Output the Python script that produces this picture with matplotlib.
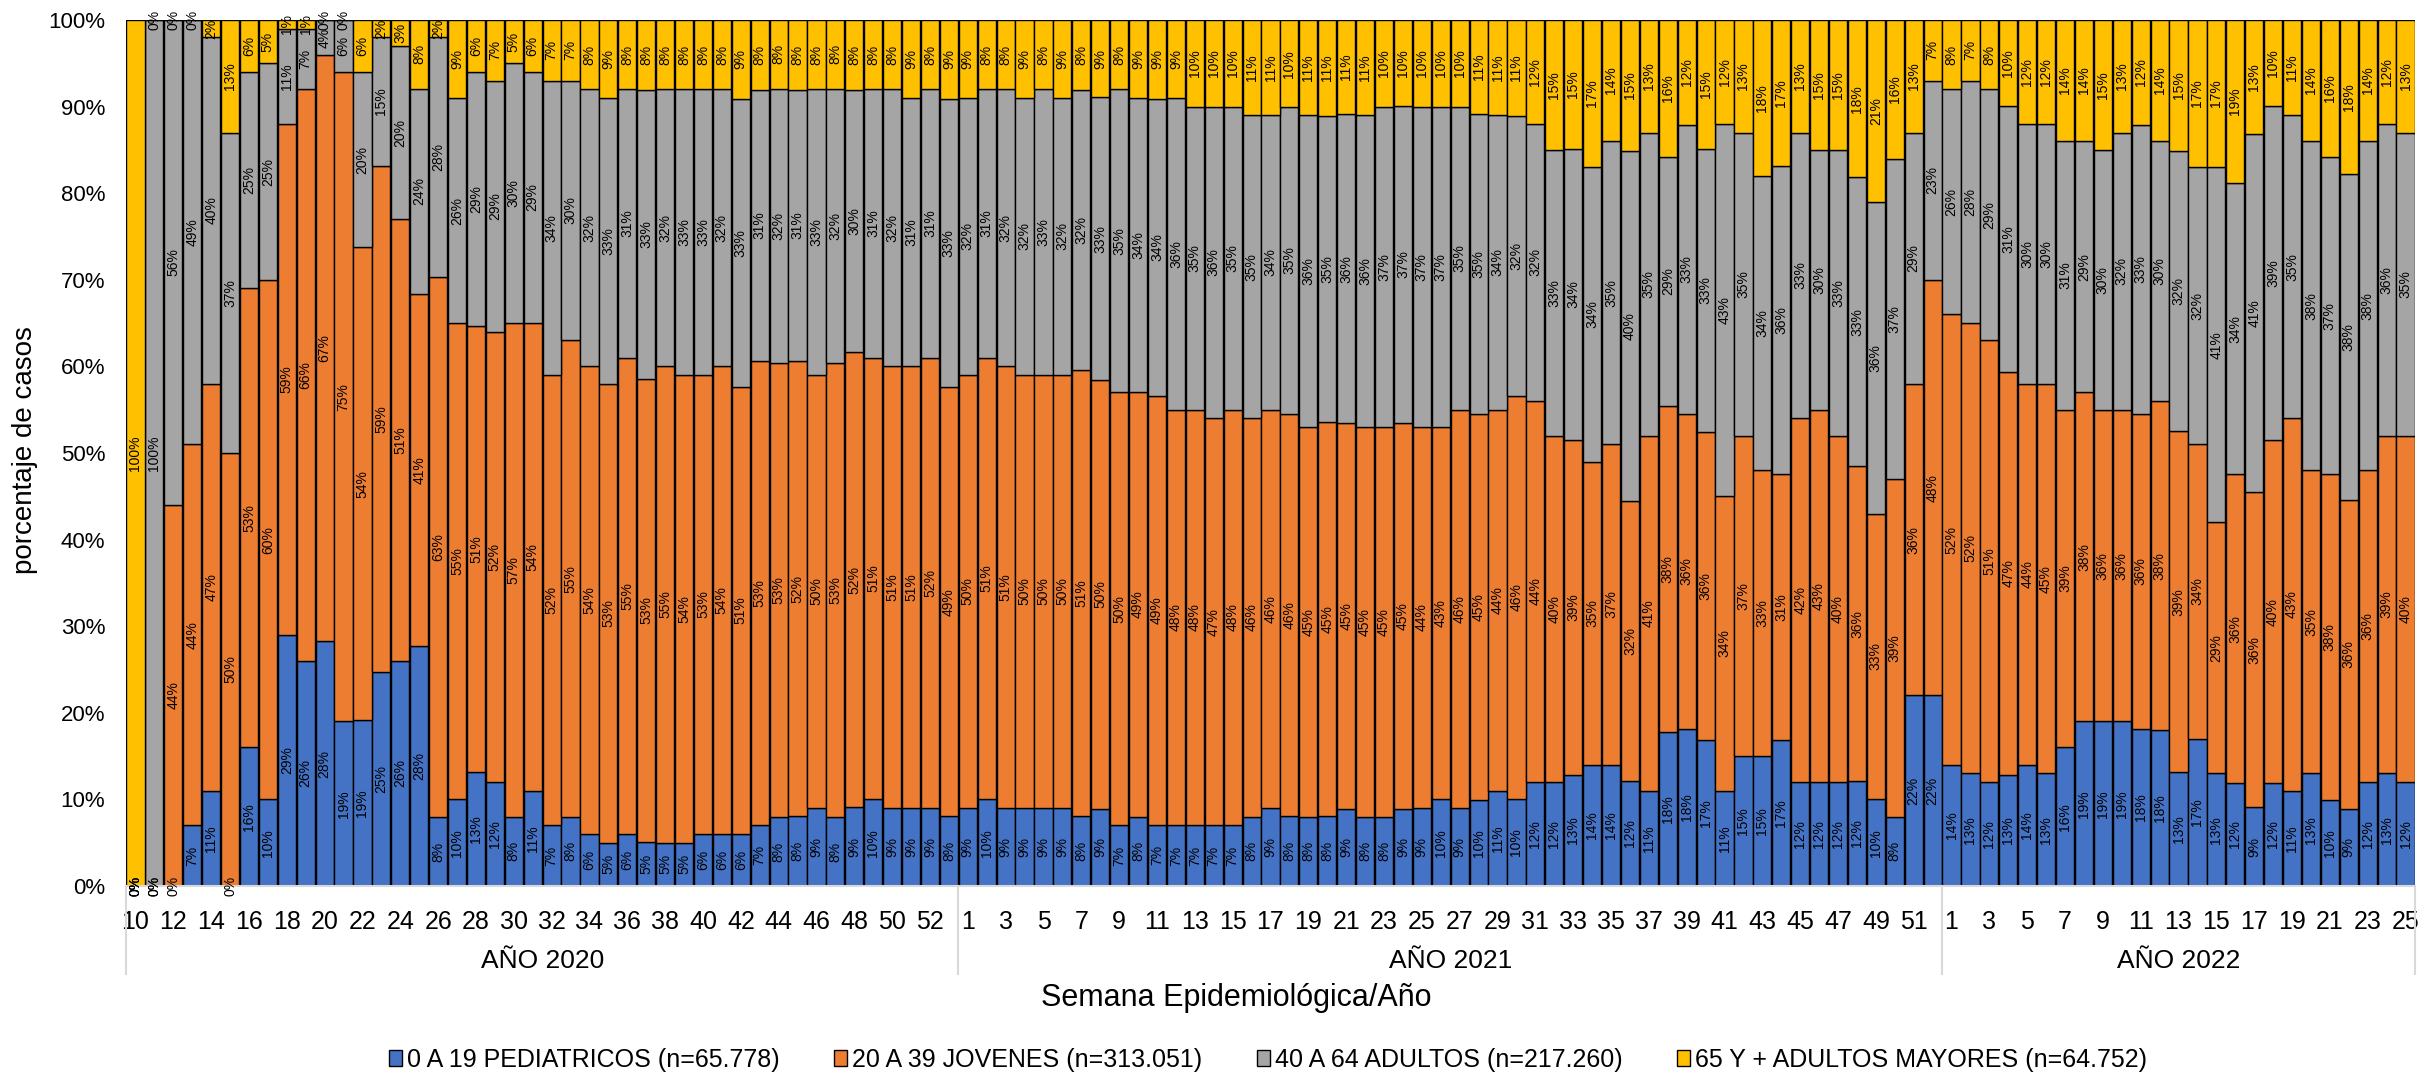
import matplotlib
matplotlib.use('Agg')
import matplotlib.pyplot as plt
from matplotlib.patches import Patch
import numpy as np

plt.rcParams['font.family'] = ['Liberation Sans', 'DejaVu Sans']

# ---------------- data ----------------
years = ['AÑO 2020', 'AÑO 2021', 'AÑO 2022']
weeks_2020 = list(range(10, 54))
weeks_2021 = list(range(1, 53))
weeks_2022 = list(range(1, 26))

series_names = ['0 A 19 PEDIATRICOS (n=65.778)',
                '20 A 39 JOVENES (n=313.051)',
                '40 A 64 ADULTOS (n=217.260)',
                '65 Y + ADULTOS MAYORES (n=64.752)']

ped = [0, 0, 0, 7, 11, 0, 16, 10, 29, 26, 28, 19, 19, 25, 26, 28, 8, 10, 13, 12,
       8, 11, 7, 8, 6, 5, 6, 5, 5, 5, 6, 6, 6, 7, 8, 8, 9, 8, 9, 10, 9, 9, 9, 8,
       9, 10, 9, 9, 9, 9, 8, 9, 7, 8, 7, 7, 7, 7, 7, 8, 9, 8, 8, 8, 9, 8, 8, 9, 9, 10,
       9, 10, 11, 10, 12, 12, 13, 14, 14, 12, 11, 18, 18, 17, 11, 15, 15, 17, 12, 12,
       12, 12, 10, 8, 22, 22,
       14, 13, 12, 13, 14, 13, 16, 19, 19, 19, 18, 18, 13, 17, 13, 12, 9, 12, 11, 13,
       10, 9, 12, 13, 12]

jov = [0, 0, 44, 44, 47, 50, 53, 60, 59, 66, 67, 75, 54, 59, 51, 41, 63, 55, 51, 52,
       57, 54, 52, 55, 54, 53, 55, 53, 55, 54, 53, 54, 51, 53, 53, 52, 50, 53, 52, 51,
       51, 51, 52, 49,
       50, 51, 51, 50, 50, 50, 51, 50, 50, 49, 49, 48, 48, 47, 48, 46, 46, 46, 45, 45,
       45, 45, 45, 45, 44, 43, 46, 45, 44, 46, 44, 40, 39, 35, 37, 32, 41, 38, 36, 36,
       34, 37, 33, 31, 42, 43, 40, 36, 33, 39, 36, 48,
       52, 52, 51, 47, 44, 45, 39, 38, 36, 36, 36, 38, 39, 34, 29, 36, 36, 40, 43, 35,
       38, 36, 36, 39, 40]

adu = [0, 100, 56, 49, 40, 37, 25, 25, 11, 7, 4, 6, 20, 15, 20, 24, 28, 26, 29, 29,
       30, 29, 34, 30, 32, 33, 31, 33, 32, 33, 33, 32, 33, 31, 32, 31, 33, 32, 30, 31,
       32, 31, 31, 33,
       32, 31, 32, 32, 33, 32, 32, 33, 35, 34, 34, 36, 35, 36, 35, 35, 34, 35, 36, 35,
       36, 36, 37, 37, 37, 37, 35, 35, 34, 32, 32, 33, 34, 34, 35, 40, 35, 29, 33, 33,
       43, 35, 34, 36, 33, 30, 33, 33, 36, 37, 29, 23,
       26, 28, 29, 31, 30, 30, 31, 29, 30, 32, 33, 30, 32, 32, 41, 34, 41, 39, 35, 38,
       37, 38, 38, 36, 35]

may = [100, 0, 0, 0, 2, 13, 6, 5, 1, 1, 0, 0, 6, 2, 3, 8, 2, 9, 6, 7,
       5, 6, 7, 7, 8, 9, 8, 8, 8, 8, 8, 8, 9, 8, 8, 8, 8, 8, 8, 8, 8, 9, 8, 9,
       9, 8, 8, 9, 8, 9, 8, 9, 8, 9, 9, 9, 10, 10, 10, 11, 11, 10, 11, 11,
       11, 11, 10, 10, 10, 10, 10, 11, 11, 11, 12, 15, 15, 17, 14, 15, 13, 16, 12, 15,
       12, 13, 18, 17, 13, 15, 15, 18, 21, 16, 13, 7,
       8, 7, 8, 10, 12, 12, 14, 14, 15, 13, 12, 14, 15, 17, 17, 19, 13, 10, 11, 14,
       16, 18, 14, 12, 13]

colors = ['#4472C4', '#ED7D31', '#A5A5A5', '#FFC000']

# ---------------- figure ----------------
W, H = 2418, 1072
fig = plt.figure(figsize=(W / 100, H / 100), dpi=100)
L, R, T, B = 126, 2415, 20, 886
ax = fig.add_axes([L / W, 1 - B / H, (R - L) / W, (B - T) / H])

weeks = weeks_2020 + weeks_2021 + weeks_2022
data = np.array([ped, jov, adu, may], dtype=float)
shares = data / data.sum(axis=0) * 100
x = np.arange(len(weeks))
bottom = np.zeros(len(weeks))
for k in range(4):
    ax.bar(x, shares[k], bottom=bottom, width=0.96, color=colors[k],
           edgecolor='black', linewidth=1.0, zorder=2)
    for i in range(len(weeks)):
        ax.text(x[i], bottom[i] + shares[k][i] / 2, f'{int(data[k][i])}%',
                rotation=90, ha='center', va='center', fontsize=10,
                color='black', zorder=5)
    bottom += shares[k]

ax.set_xlim(-0.5, len(weeks) - 0.5)
ax.set_ylim(0, 100)
ax.set_yticks(np.arange(0, 101, 10))
ax.set_yticklabels([f'{v}%' for v in range(0, 101, 10)], fontsize=16)
ax.set_xticks(x[::2])
ax.set_xticklabels([str(w) for w in weeks[::2]], fontsize=18)
ax.tick_params(axis='y', length=0, pad=15)
ax.tick_params(axis='x', length=0, pad=17)
for s in ['left', 'top', 'right']:
    ax.spines[s].set_visible(False)
ax.spines['bottom'].set_color('#D9D9D9')
ax.spines['bottom'].set_linewidth(1.5)

# year groups
bounds = [-0.5, len(weeks_2020) - 0.5, len(weeks_2020) + len(weeks_2021) - 0.5, len(weeks) - 0.5]
trans = ax.get_xaxis_transform()
ybot = -(974 - B) / (B - T)
for b in bounds:
    ax.plot([b, b], [0, ybot], transform=trans, color='#D9D9D9', lw=1.5, clip_on=False)
ylab = -(961 - B) / (B - T)
for j, name in enumerate(years):
    ax.text((bounds[j] + bounds[j + 1]) / 2, ylab, name, transform=trans,
            ha='center', va='center', fontsize=19)

fig.text(1236 / W, 1 - 998 / H, 'Semana Epidemiológica/Año', ha='center', va='center', fontsize=22)
fig.text(25 / W, 1 - 450 / H, 'porcentaje de casos', rotation=90, ha='center', va='center', fontsize=20)

handles = [Patch(facecolor=c, edgecolor='black', linewidth=1.0) for c in colors]
fig.legend(handles, series_names, loc='center', bbox_to_anchor=(1268 / W, 1 - 1060 / H),
           ncol=4, frameon=False, fontsize=18, handlelength=0.5, handleheight=0.6,
           handletextpad=0.2, columnspacing=2.2)

fig.savefig('out.png', dpi=100)
